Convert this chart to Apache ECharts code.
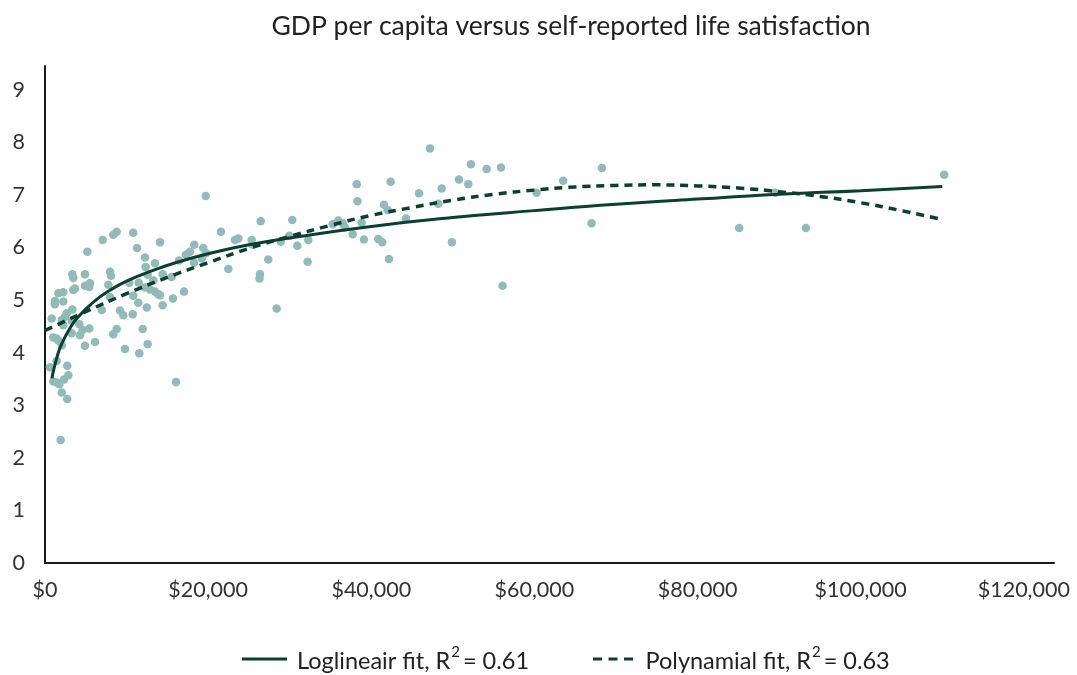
<!DOCTYPE html>
<html>
<head>
<meta charset="utf-8">
<script src="https://cdn.jsdelivr.net/npm/echarts@6/dist/echarts.min.js"></script>
<style>html,body{margin:0;padding:0;background:#fff}#chart{width:1077px;height:675px}</style>
</head>
<body>
<div id="chart"></div>
<script>
const gdpPerCapita = [5190,11280,3350,3470,4900,7970,8090,12260,12340,13480,14430,12590,1630,2240,3470,3680,4900,5520,5430,7760,10330,11490,13280,12260,12870,13480,13890,14100,1230,1200,2240,7970,10820,11440,14430,12470,3350,2660,2450,6950,9190,9600,10750,820,2050,2240,3270,4200,5430,4620,4290,3270,8790,8370,11980,1020,1430,1630,2050,4900,6130,9810,11560,12590,1430,610,2730,2860,2330,1020,1430,1750,2050,2730,1920,
19700,7070,8370,8790,10820,14100,21570,23290,23700,15530,16430,17280,17770,18300,18260,19400,19210,19740,22470,15690,17040,16060,
38210,38300,26440,25340,25460,26360,26300,27370,28400,30310,29950,28890,30930,32280,32200,35270,35950,36490,36770,37720,
47190,42380,38820,39100,40860,41350,41560,42010,42170,44250,45850,48210,48630,49890,50750,51890,52220,54140,55900,56100,60270,63530,67010,68280,
85110,89520,93280,110240];
const lifeSatisfaction = [5.92,5.99,5.49,5.42,5.49,5.54,5.46,5.81,5.63,5.70,5.49,5.48,5.13,5.15,5.19,5.22,5.27,5.32,5.25,5.29,5.33,5.33,5.37,5.24,5.20,5.16,5.11,5.09,4.98,4.92,4.97,5.06,5.08,4.95,4.90,4.86,4.82,4.75,4.68,4.81,4.80,4.71,4.73,4.65,4.62,4.52,4.60,4.54,4.46,4.43,4.33,4.37,4.45,4.35,4.45,4.29,4.27,4.23,4.14,4.13,4.20,4.07,3.99,4.16,3.84,3.72,3.75,3.57,3.49,3.45,3.43,3.40,3.24,3.12,2.34,
6.98,6.14,6.24,6.30,6.28,6.10,6.30,6.14,6.17,5.44,5.75,5.86,5.92,6.05,5.71,5.99,5.79,5.89,5.59,5.03,5.16,3.44,
7.20,6.88,6.50,6.14,6.05,5.49,5.41,5.77,4.84,6.52,6.22,6.11,6.03,6.14,5.73,6.44,6.51,6.46,6.38,6.25,
7.88,7.25,6.47,6.15,6.16,6.10,6.81,6.71,5.78,6.55,7.03,6.83,7.12,6.10,7.29,7.20,7.58,7.49,7.52,5.27,7.04,7.27,6.46,7.51,
6.37,7.04,6.37,7.38];

const logFitX = [850,1000,1500,2000,3000,4000,6000,8000,10000,13000,16000,20000,25000,30000,40000,50000,60000,70000,80000,90000,100000,110000];
const logFitY = [3.51,3.63,3.93,4.15,4.45,4.67,4.97,5.19,5.36,5.55,5.71,5.88,6.05,6.18,6.40,6.57,6.70,6.82,6.92,7.01,7.08,7.16];

const polyFitX = [0,5000,10000,15000,20000,25000,30000,35000,40000,45000,50000,55000,60000,65000,70000,75000,80000,85000,90000,95000,100000,105000,110000];
const polyFitY = [4.42,4.78,5.12,5.43,5.71,5.98,6.21,6.42,6.61,6.76,6.90,7.01,7.09,7.15,7.18,7.19,7.17,7.13,7.06,6.97,6.85,6.70,6.53];

const yTicks = [0,1,2,3,4,5,6,7,8,9];
const xTicks = [0,20000,40000,60000,80000,100000,120000];

const seriesNames = ['Loglineair fit', 'Polynamial fit'];
const rSquared = ['0.61', '0.63'];

const FONT = 'Lato';
const lineColor = '#0b3f2f';
const dotColor = '#92bab7';

const solidIcon = 'path://M0,0H46V3H0Z';
const dashedIcon = 'path://M0,0H9V3H0Z M15.5,0H24.5V3H15.5Z M31,0H40V3H31Z';

const chart = echarts.init(document.getElementById('chart'));
chart.setOption({
  animation: false,
  backgroundColor: '#fff',
  textStyle: { fontFamily: FONT },
  title: {
    text: 'GDP per capita versus self-reported life satisfaction',
    left: 566,
    textAlign: 'center',
    top: 8,
    textStyle: { fontFamily: FONT, fontSize: 26.5, fontWeight: 'normal', color: '#222' }
  },
  legend: {
    data: [
      { name: seriesNames[0], icon: solidIcon },
      { name: seriesNames[1], icon: dashedIcon }
    ],
    left: 237,
    top: 640,
    itemGap: 64,
    itemWidth: 45,
    itemHeight: 3,
    itemStyle: { color: lineColor },
    formatter: function (name) {
      const i = seriesNames.indexOf(name);
      return '{p|' + name + ', R}{s|2}{t|= ' + rSquared[i] + '}';
    },
    textStyle: {
      color: '#222',
      rich: {
        p: { fontFamily: FONT, fontSize: 23.5, color: '#222', padding: [4, 0, 0, 5] },
        t: { fontFamily: FONT, fontSize: 23.5, color: '#222', padding: [4, 0, 0, 3] },
        s: { fontFamily: FONT, fontSize: 15, color: '#222', verticalAlign: 'top', padding: [0, 0, 9, 1] }
      }
    }
  },
  grid: { left: 45, right: 23, top: 66, bottom: 112, containLabel: false },
  xAxis: {
    type: 'value',
    min: 0,
    max: 123700,
    interval: 20000,
    axisLine: { show: true, lineStyle: { color: '#1a1a1a', width: 2 } },
    axisTick: { show: false },
    splitLine: { show: false },
    axisLabel: {
      margin: 16,
      fontFamily: FONT,
      fontSize: 21.5,
      color: '#333',
      formatter: function (v) {
        if (xTicks.indexOf(v) < 0) return '';
        return '$' + v.toLocaleString('en-US');
      }
    }
  },
  yAxis: {
    type: 'value',
    min: 0,
    max: 9.45,
    interval: 1,
    axisLine: { show: true, lineStyle: { color: '#1a1a1a', width: 2 } },
    axisTick: { show: false },
    splitLine: { show: false },
    axisLabel: {
      margin: 20,
      fontFamily: FONT,
      fontSize: 21.5,
      color: '#333',
      formatter: function (v) {
        return yTicks.indexOf(v) < 0 ? '' : String(v);
      }
    }
  },
  series: [
    {
      type: 'scatter',
      name: 'Countries',
      symbolSize: 8.5,
      itemStyle: { color: dotColor, opacity: 1 },
      z: 1,
      data: gdpPerCapita.map((x, i) => [x, lifeSatisfaction[i]])
    },
    {
      type: 'line',
      name: seriesNames[0],
      showSymbol: false,
      symbol: 'none',
      smooth: true,
      z: 3,
      lineStyle: { color: lineColor, width: 3 },
      itemStyle: { color: lineColor },
      data: logFitX.map((x, i) => [x, logFitY[i]])
    },
    {
      type: 'line',
      name: seriesNames[1],
      showSymbol: false,
      symbol: 'none',
      smooth: true,
      z: 3,
      lineStyle: { color: lineColor, width: 3.5, type: [8, 6] },
      itemStyle: { color: lineColor },
      data: polyFitX.map((x, i) => [x, polyFitY[i]])
    }
  ]
});
</script>
</body>
</html>
